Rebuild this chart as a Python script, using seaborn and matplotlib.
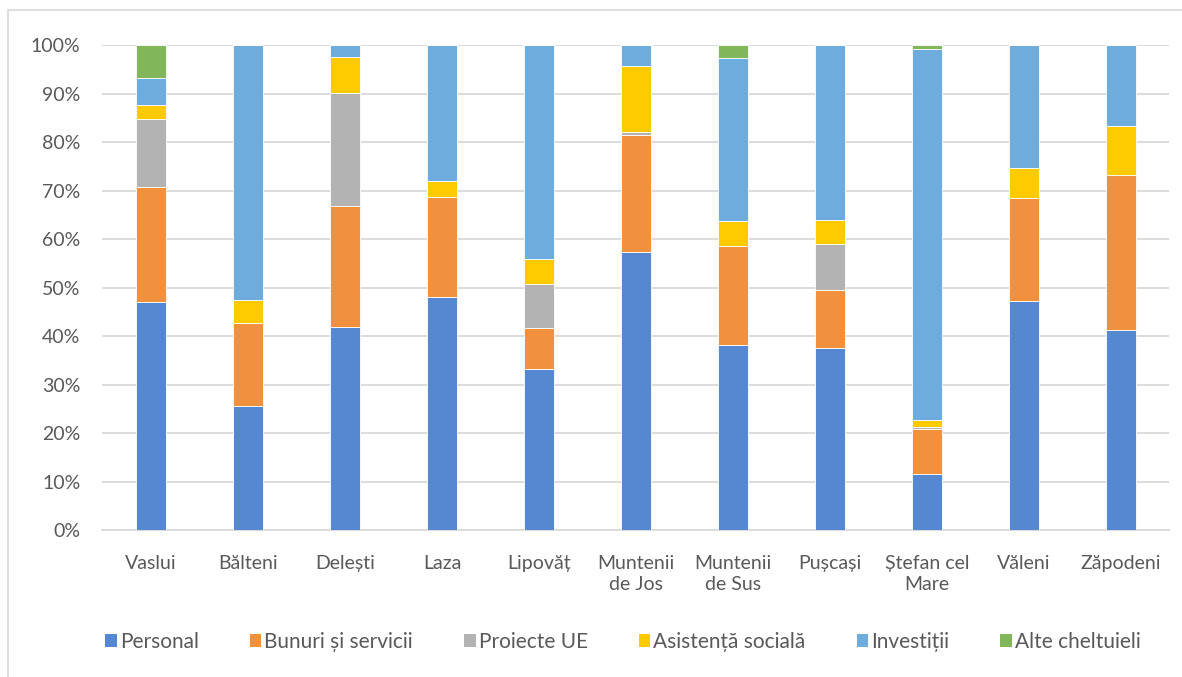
import pandas as pd
import seaborn as sns
import matplotlib.pyplot as plt
from matplotlib.patches import Rectangle, Patch
from matplotlib.ticker import PercentFormatter

# Share of each spending category per locality (%)
localities = ["Vaslui", "Bălteni", "Delești", "Laza", "Lipovăț", "Muntenii\nde Jos",
              "Muntenii\nde Sus", "Pușcași", "Ștefan cel\nMare", "Văleni", "Zăpodeni"]
personal = [47.1, 25.6, 41.8, 48.0, 33.2, 57.4, 38.1, 37.5, 11.5, 47.3, 41.3]
bunuri = [23.7, 17.0, 25.1, 20.7, 8.5, 24.0, 20.5, 11.9, 9.3, 21.2, 32.0]
proiecte_ue = [13.9, 0.0, 23.3, 0.0, 9.0, 0.7, 0.0, 9.5, 0.5, 0.0, 0.0]
asistenta = [2.9, 4.8, 7.3, 3.3, 5.1, 13.6, 5.2, 5.0, 1.4, 6.2, 10.1]
investitii = [5.7, 52.6, 2.5, 28.0, 44.2, 4.3, 33.5, 36.1, 76.4, 25.3, 16.6]
alte = [6.7, 0.0, 0.0, 0.0, 0.0, 0.0, 2.7, 0.0, 0.9, 0.0, 0.0]

series = {
    "Personal": personal,
    "Bunuri și servicii": bunuri,
    "Proiecte UE": proiecte_ue,
    "Asistență socială": asistenta,
    "Investiții": investitii,
    "Alte cheltuieli": alte,
}
colors = ["#5588D0", "#F2913D", "#B3B3B3", "#FFCA00", "#6DACDC", "#81B65B"]

sns.set_theme(style="white")
plt.rcParams["font.family"] = ["Lato", "DejaVu Sans"]
text_color = "#595959"

fig = plt.figure(figsize=(11.82, 6.77), dpi=100)
ax = fig.add_axes([0.0867, 0.2171, 0.9027, 0.7164])

# light chart-area frame like the Excel export
fig.patches.append(Rectangle((8 / 1182, -0.05), 1.2, 1 - 10 / 677 + 0.05,
                             transform=fig.transFigure, fill=False,
                             edgecolor="#D9D9D9", linewidth=1.2))

bottom = pd.Series([0.0] * len(localities))
for (name, vals), col in zip(series.items(), colors):
    df = pd.DataFrame({"loc": localities, "val": [v / 100 for v in vals]})
    sns.barplot(data=df, x="loc", y="val", order=localities, color=col,
                saturation=1, width=0.31, bottom=bottom.values,
                edgecolor="white", linewidth=0.6, errorbar=None, ax=ax,
                zorder=3)
    bottom = bottom + df["val"]

ax.set_xlim(-0.5, len(localities) - 0.5)
ax.set_ylim(0, 1)
ax.set_yticks([i / 10 for i in range(11)])
ax.yaxis.set_major_formatter(PercentFormatter(1.0, decimals=0))
ax.grid(axis="y", color="#D9D9D9", linewidth=1.3, zorder=0)
ax.set_axisbelow(True)
for s in ["left", "right", "top"]:
    ax.spines[s].set_visible(False)
ax.spines["bottom"].set_color("#D9D9D9")
ax.spines["bottom"].set_linewidth(1.3)
ax.set_xlabel("")
ax.set_ylabel("")
ax.tick_params(axis="both", length=0, labelsize=14, colors=text_color)
ax.tick_params(axis="y", pad=16)
ax.tick_params(axis="x", pad=18)
for lbl in ax.get_xticklabels():
    lbl.set_linespacing(1.3)

handles = [Patch(facecolor=c, edgecolor="none") for c in colors]
fig.legend(handles, list(series.keys()), loc="center", ncol=6,
           bbox_to_anchor=(0.527, 0.052), frameon=False, fontsize=15,
           handlelength=0.55, handleheight=0.55, handletextpad=0.15,
           columnspacing=2.45, labelcolor=text_color)

fig.savefig("out.png", dpi=100)
